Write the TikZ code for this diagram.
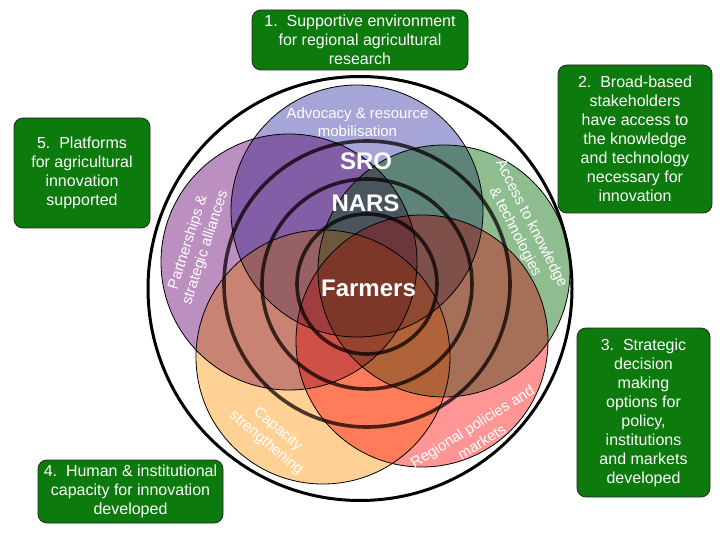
\documentclass[tikz,border=0pt]{standalone}
\usepackage{fontspec}
\setmainfont{Liberation Sans}
% colours as seen over white
\definecolor{lav}{RGB}{165,165,215}
\definecolor{pur}{RGB}{188,143,193}
\definecolor{grn}{RGB}{143,190,143}
\definecolor{org}{RGB}{255,210,150}
\definecolor{pnk}{RGB}{255,150,150}
% base colours for 50% transparent layers
\definecolor{lavB}{RGB}{75,75,175}
\definecolor{purB}{RGB}{121,31,131}
\definecolor{grnB}{RGB}{31,125,31}
\definecolor{orgB}{RGB}{255,165,45}
\definecolor{pnkB}{RGB}{255,45,45}
\definecolor{boxgreen}{RGB}{12,122,12}
\definecolor{ringc}{RGB}{75,65,65}
\tikzset{
  gbox/.style={draw=black!85, line width=0.8pt, fill=boxgreen, rounded corners=9pt,
    text=white, align=center, inner sep=0pt, font=\fontsize{16}{19}\selectfont},
  petal/.style={draw=black, line width=0.8pt},
  ringline/.style={draw=ringc, line width=3.6pt},
  plabel/.style={text=white, align=center, inner sep=0pt, font=\fontsize{15}{18}\selectfont},
  biglabel/.style={text=white, inner sep=0pt, font=\fontsize{24}{28}\selectfont\bfseries}
}
\begin{document}
\begin{tikzpicture}[x=1pt,y=-1pt]
\useasboundingbox (0,0) rectangle (720,540);
\coordinate (cl) at (357,211);
\coordinate (cp) at (289,262);
\coordinate (cg) at (444,271);
\coordinate (co) at (323,357);
\coordinate (ck) at (422,341);
\coordinate (cr) at (367,284);
\coordinate (cc) at (360,288.5);
% normal, half-transparent layers
\begin{scope}[fill opacity=0.5]
  \fill[lavB] (cl) circle[radius=126pt];
  \fill[purB] (cp) circle[radius=128pt];
  \fill[grnB] (cg) circle[radius=126pt];
  \fill[orgB] (co) circle[radius=127pt];
  \fill[pnkB] (ck) circle[radius=126pt];
\end{scope}
% multiplied layers, mixed over them
\begin{scope}[transparency group, opacity=0.6]
  \begin{scope}[blend group=multiply]
    \fill[lav] (cl) circle[radius=126pt];
    \fill[pur] (cp) circle[radius=128pt];
    \fill[grn] (cg) circle[radius=126pt];
    \fill[org] (co) circle[radius=127pt];
    \fill[pnk] (ck) circle[radius=126pt];
  \end{scope}
\end{scope}
\begin{scope}[blend mode=multiply]
  \draw[petal] (cl) circle[radius=126pt];
  \draw[petal] (cp) circle[radius=128pt];
  \draw[petal] (cg) circle[radius=126pt];
  \draw[petal] (co) circle[radius=127pt];
  \draw[petal] (ck) circle[radius=126pt];
  \draw[ringline] (cr) circle[radius=143pt];
  \draw[ringline] (cr) circle[radius=105pt];
  \draw[ringline] (cr) circle[radius=70pt];
\end{scope}
\draw[line width=3pt] (cc) circle[radius=212pt];

\node[plabel] (adv) at (357.5,122) {Advocacy \& resource\\mobilisation};
\node[plabel, rotate=72] (part) at (197,245) {Partnerships \&\\strategic alliances};
\node[plabel, rotate=-63] (acc) at (523,228) {Access to knowledge\\\& technologies};
\node[plabel, rotate=-40] (cap) at (272,436) {Capacity\\strengthening};
\node[plabel, rotate=32] (reg) at (477,434) {Regional policies and\\markets};

\node[biglabel] (sro) at (366,161.5) {SRO};
\node[biglabel] (nars) at (365.5,203.5) {NARS};
\node[biglabel] (farm) at (368.5,288.5) {Farmers};

\node[gbox, minimum width=216pt, minimum height=60pt] (b1) at (360,40)
  {1.\ \ Supportive environment\\for regional agricultural\\research};
\node[gbox, minimum width=154pt, minimum height=148pt] (b2) at (635,139)
  {2.\ \ Broad-based\\stakeholders\\have access to\\the knowledge\\and technology\\necessary for\\innovation};
\node[gbox, minimum width=133pt, minimum height=169pt] (b3) at (643.5,412.5)
  {3.\ \ Strategic\\decision\\making\\options for\\policy,\\institutions\\and markets\\developed};
\node[gbox, minimum width=185pt, minimum height=63pt] (b4) at (130.5,491.5)
  {4.\ \ Human \& institutional\\capacity for innovation\\developed};
\node[gbox, minimum width=136pt, minimum height=110pt] (b5) at (82,173)
  {5.\ \ Platforms\\for agricultural\\innovation\\supported};
\end{tikzpicture}
\end{document}
